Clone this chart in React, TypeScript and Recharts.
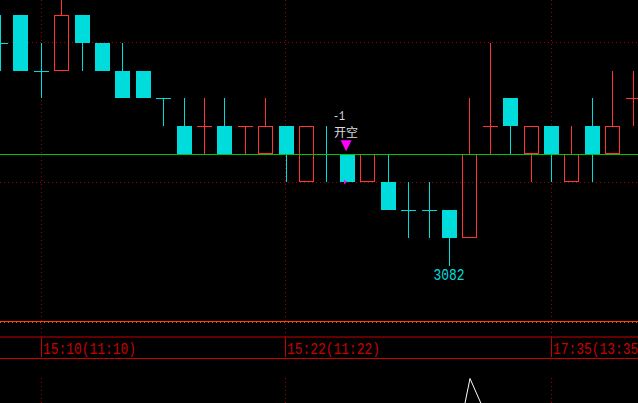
import { ComposedChart, Bar, Scatter, XAxis, YAxis, ReferenceLine, CartesianGrid } from 'recharts';

// bar index, -1 is the half-cut bar at the left edge
const IDX = [-1, 0, 1, 2, 3, 4, 5, 6, 7, 8, 9, 10, 11, 12, 13, 14, 15, 16, 17, 18, 19, 20, 21, 22, 23, 24, 25, 26, 27, 28, 29, 30];
const OPEN = [3090, 3091, 3089, 3089, 3091, 3090, 3089, 3089, 3088, 3087, 3087, 3087, 3087, 3086, 3087, 3085, 3086, 3086, 3085, 3085, 3084, 3084, 3084, 3083, 3087, 3088, 3086, 3087, 3085, 3087, 3086, 3088];
const HIGH = [3091, 3091, 3090, 3093, 3091, 3090, 3090, 3089, 3088, 3088, 3088, 3088, 3087, 3088, 3087, 3087, 3087, 3086, 3086, 3086, 3085, 3085, 3084, 3088, 3090, 3088, 3087, 3087, 3087, 3088, 3089, 3089];
const LOW = [3089, 3089, 3088, 3089, 3089, 3089, 3088, 3088, 3087, 3086, 3086, 3086, 3086, 3086, 3085, 3085, 3085, 3085, 3085, 3084, 3083, 3083, 3082, 3083, 3086, 3086, 3085, 3085, 3085, 3085, 3086, 3087];
const CLOSE = [3090, 3089, 3089, 3091, 3090, 3089, 3088, 3088, 3088, 3086, 3087, 3086, 3087, 3087, 3086, 3087, 3086, 3085, 3086, 3084, 3084, 3084, 3083, 3086, 3087, 3087, 3087, 3086, 3086, 3086, 3087, 3088];

const TIME_TICKS = [1, 13, 26];
const TIME_LABELS = ['15:10(11:10)', '15:22(11:22)', '17:35(13:35)'];

const GRID_PRICES = [3090, 3085];
const BASE_PRICE = 3086;

// trade signal
const SIGNAL_IDX = [16];
const SIGNAL_PRICE = [3086];
const SIGNAL_TEXT = ['开空'];
const SIGNAL_QTY = ['-1'];
const FILL_PRICE = [3085];

// lowest point label
const LOW_IDX = [21];
const LOW_PRICE = [3082];

// marker in the lower panel
const LOWER_IDX = [22];

const UP = '#ff3434';
const DOWN = '#00dcdc';
const GRID = '#a00000';
const AXIS_RED = '#c80000';

const X_DOMAIN = [-1.0147, 30.2598];
const Y_DOMAIN = [3079.445, 3091.53];

const candles = IDX.map((i, k) => ({
  i,
  open: OPEN[k],
  high: HIGH[k],
  low: LOW[k],
  close: CLOSE[k],
  range: [LOW[k], HIGH[k]],
  up: CLOSE[k] > OPEN[k] || (CLOSE[k] === OPEN[k] && k > 0 && CLOSE[k] > CLOSE[k - 1]),
}));

const signals = SIGNAL_IDX.map((i, k) => ({ i, price: SIGNAL_PRICE[k], text: SIGNAL_TEXT[k], qty: SIGNAL_QTY[k] }));
const fills = SIGNAL_IDX.map((i, k) => ({ i, price: FILL_PRICE[k] }));
const lows = LOW_IDX.map((i, k) => ({ i, price: LOW_PRICE[k] }));
const lowerMarks = LOWER_IDX.map((i) => ({ i, v: 1 }));

function Candle(props: any) {
  const { x, y, width, height, payload } = props;
  const { open, high, low, close, up } = payload;
  const unit = height / (high - low);
  const py = (p: number) => Math.round(y + (high - p) * unit);
  const c = Math.floor(x + width / 2);
  const color = up ? UP : DOWN;
  const yHigh = py(high);
  const yLow = py(low);
  const yTop = py(Math.max(open, close));
  const yBot = py(Math.min(open, close));
  const wx = c + 0.5;

  if (open === close) {
    return (
      <g shapeRendering="crispEdges">
        <line x1={wx} x2={wx} y1={yHigh} y2={yLow} stroke={color} />
        <line x1={c - 7} x2={c + 8} y1={yTop + 0.5} y2={yTop + 0.5} stroke={color} />
      </g>
    );
  }
  return (
    <g shapeRendering="crispEdges">
      {yHigh < yTop && <line x1={wx} x2={wx} y1={yHigh} y2={yTop} stroke={color} />}
      {yLow > yBot && <line x1={wx} x2={wx} y1={yBot} y2={yLow} stroke={color} />}
      {up ? (
        <rect x={c - 6.5} y={yTop + 0.5} width={14} height={yBot - yTop - 1} fill="none" stroke={color} />
      ) : (
        <rect x={c - 7} y={yTop} width={15} height={yBot - yTop} fill={color} />
      )}
    </g>
  );
}

function SignalMark(props: any) {
  const { cx, cy, payload } = props;
  return (
    <g>
      <text x={cx - 14} y={cy - 34} fill="#dcdcdc" fontSize={12} fontFamily="Liberation Mono" textLength={12} lengthAdjust="spacingAndGlyphs">
        {payload.qty}
      </text>
      <text x={cx - 13} y={cy - 17} fill="#dcdcdc" fontSize={12} fontFamily="Noto Sans CJK SC">
        {payload.text}
      </text>
      <polygon points={`${cx - 6.5},${cy - 14} ${cx + 4.5},${cy - 14} ${cx - 1},${cy - 3}`} fill="#ff00ff" />
    </g>
  );
}

function FillMark(props: any) {
  const { cx, cy } = props;
  return <polygon points={`${cx - 3},${cy - 2.5} ${cx},${cy} ${cx - 3},${cy + 2.5}`} fill="#ff00ff" />;
}

function LowLabel(props: any) {
  const { cx, cy, payload } = props;
  const s = String(payload.price);
  return (
    <text x={cx - 15.5} y={cy + 14} fill={DOWN} fontSize={16} fontFamily="Liberation Mono" textLength={s.length * 7.75} lengthAdjust="spacingAndGlyphs">
      {s}
    </text>
  );
}

function LowerMark(props: any) {
  const { cx, cy } = props;
  return (
    <polygon
      points={`${cx + 0.5},${cy + 0.5} ${cx - 5.5},${cy + 30} ${cx + 13.5},${cy + 30}`}
      fill="none"
      stroke="#ffffff"
    />
  );
}

function TimeTick(props: any) {
  const { x, y, payload, index } = props;
  const c = Math.floor(x) + 0.5;
  const label = TIME_LABELS[index] ?? String(payload.value);
  return (
    <g>
      <line x1={c} x2={c} y1={y + 1} y2={y + 20} stroke={AXIS_RED} shapeRendering="crispEdges" />
      <text
        x={c + 1.5}
        y={y + 17}
        fill={AXIS_RED}
        fontSize={16}
        fontFamily="Liberation Mono"
        textLength={label.length * 7.75}
        lengthAdjust="spacingAndGlyphs"
      >
        {label}
      </text>
    </g>
  );
}

export default function App() {
  return (
    <div style={{ position: 'absolute', left: 0, top: 0, width: 638, height: 403, background: '#000', overflow: 'hidden' }}>
      <style>{`.recharts-reference-line line,.recharts-cartesian-grid line{shape-rendering:crispEdges}`}</style>
      <ComposedChart width={638} height={358} data={candles} margin={{ top: 0, right: 0, bottom: 0, left: 0 }}>
        <CartesianGrid
          stroke={GRID}
          strokeDasharray="1 3"
          horizontalValues={GRID_PRICES}
          verticalValues={TIME_TICKS}
        />
        <XAxis
          type="number"
          dataKey="i"
          domain={X_DOMAIN}
          allowDataOverflow
          ticks={TIME_TICKS}
          interval={0}
          height={21}
          tickSize={0}
          tickMargin={0}
          tickLine={false}
          axisLine={{ stroke: AXIS_RED }}
          tick={<TimeTick />}
        />
        <YAxis hide domain={Y_DOMAIN} allowDataOverflow />
        <Bar dataKey="range" barSize={15} shape={<Candle />} isAnimationActive={false} />
        <ReferenceLine y={BASE_PRICE} stroke="#00c800" />
        <Scatter data={signals} dataKey="price" shape={<SignalMark />} isAnimationActive={false} />
        <Scatter data={fills} dataKey="price" shape={<FillMark />} isAnimationActive={false} />
        <Scatter data={lows} dataKey="price" shape={<LowLabel />} isAnimationActive={false} />
      </ComposedChart>
      <div style={{ position: 'absolute', left: 0, top: 321, width: 638, height: 1, background: '#ff4000' }} />
      <div
        style={{
          position: 'absolute',
          left: 0,
          top: 322,
          width: 638,
          height: 1,
          background: 'repeating-linear-gradient(to right, #ff4000 0 1px, transparent 1px 4px)',
        }}
      />
      <div style={{ position: 'absolute', left: 0, top: 358, width: 638, height: 1, background: AXIS_RED }} />
      <div style={{ position: 'absolute', left: 0, top: 378 }}>
        <ComposedChart width={638} height={25} data={lowerMarks} margin={{ top: 0, right: 0, bottom: 0, left: 0 }}>
          <CartesianGrid stroke={GRID} strokeDasharray="1 3" horizontal={false} verticalValues={TIME_TICKS} />
          <XAxis type="number" dataKey="i" domain={X_DOMAIN} allowDataOverflow hide />
          <YAxis hide domain={[0, 1]} />
          <Scatter dataKey="v" shape={<LowerMark />} isAnimationActive={false} />
        </ComposedChart>
      </div>
    </div>
  );
}
